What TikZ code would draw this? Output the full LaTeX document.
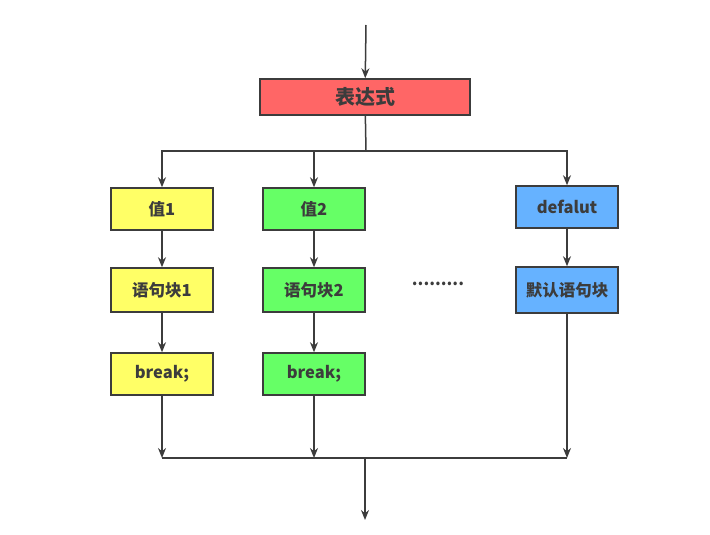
\documentclass[tikz,border=0pt]{standalone}
\usepackage{fontspec}
\setmainfont{Noto Sans CJK SC}
\usetikzlibrary{arrows.meta}
\definecolor{linegray}{HTML}{3C3C3C}
\definecolor{exprred}{HTML}{FF6666}
\definecolor{valyellow}{HTML}{FFFF66}
\definecolor{valgreen}{HTML}{66FF66}
\definecolor{valblue}{HTML}{66B2FF}
\tikzset{
  swbox/.style = {draw=linegray, line width=1.5pt, minimum width=102pt,
    minimum height=42pt, inner sep=0pt, text=linegray,
    font=\fontsize{16.5}{16.5}\selectfont\bfseries},
  exprbox/.style = {swbox, fill=exprred, minimum width=210pt,
    minimum height=36pt, font=\fontsize{20}{20}\selectfont\bfseries}}

\begin{document}
\begin{tikzpicture}[x=1pt,y=-1pt,line width=1.5pt,draw=linegray,
  >={Stealth[length=10pt,width=8pt]}]
 \useasboundingbox (0,0) rectangle (710,535);

\node [exprbox] (expr) at (365,97) {表达式};
% first row: case values
\node [swbox, fill=valyellow] (val1) at (162,209) {值1};
\node [swbox, fill=valgreen] (val2) at (314,209) {值2};
\node [swbox, fill=valblue] (vdef) at (567,207) {defalut};
% second row: statement blocks
\node [swbox, fill=valyellow, minimum height=44pt] (blk1) at (162,290) {语句块1};
\node [swbox, fill=valgreen, minimum height=44pt] (blk2) at (314,290) {语句块2};
\node [swbox, fill=valblue, minimum height=46pt] (blkdef) at (567,290) {默认语句块};
\node [text=linegray, font=\fontsize{16.5}{16.5}\selectfont\bfseries] (dots) at (438,284) {.........};
% third row: break
\node [swbox, fill=valyellow] (brk1) at (162,374) {break;};
\node [swbox, fill=valgreen] (brk2) at (314,374) {break;};

\coordinate (top) at (366,25);
\coordinate (split) at (366,151);
\coordinate (join) at (365,458);
\coordinate (bottom) at (365,520);

\draw[->] (top) -- (expr);
\draw (expr) -- (split);
\draw[->] (split) -| (val1);
\draw[->] (split) -| (vdef);
\draw[->] (val2 |- split) -- (val2);
\draw[->] (val1) -- (blk1);
\draw[->] (val2) -- (blk2);
\draw[->] (vdef) -- (blkdef);
\draw[->] (blk1) -- (brk1);
\draw[->] (blk2) -- (brk2);
\draw[->] (brk1) -- (brk1 |- join);
\draw[->] (brk2) -- (brk2 |- join);
\draw[->] (blkdef) -- (blkdef |- join);
\draw (brk1 |- join) -- (blkdef |- join);
\draw[->] (join) -- (bottom);
\end{tikzpicture}
\end{document}
